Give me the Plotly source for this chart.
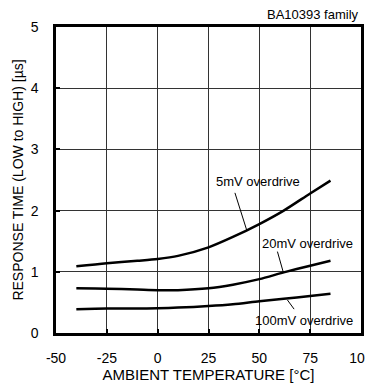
import plotly.graph_objects as go

temp = [-40, -25, -10, 0, 10, 25, 37, 50, 62, 75, 85]
mv5 = [1.09, 1.14, 1.18, 1.21, 1.26, 1.40, 1.57, 1.78, 2.00, 2.28, 2.49]
mv20 = [0.73, 0.725, 0.71, 0.70, 0.70, 0.73, 0.79, 0.88, 0.99, 1.10, 1.18]
mv100 = [0.39, 0.40, 0.40, 0.405, 0.415, 0.44, 0.47, 0.52, 0.56, 0.605, 0.64]

x_ticks = [-50, -25, 0, 25, 50, 75, 100]
x_labels = ["-50", "-25", "0", "25", "50", "75", "100"]
y_ticks = [0, 1, 2, 3, 4, 5]

font = "Liberation Sans, Arial, sans-serif"

fig = go.Figure()
for ys in (mv5, mv20, mv100):
    fig.add_trace(go.Scatter(x=temp, y=ys, mode="lines",
                             line=dict(color="black", width=2.5, shape="spline", smoothing=0.8),
                             showlegend=False, hoverinfo="skip"))

# leader lines
leaders = [((38.0, 2.29), (43.8, 1.68)), ((58.9, 1.33), (61.8, 0.99)), ((63.8, 0.54), (67.1, 0.39))]
for (x0, y0), (x1, y1) in leaders:
    fig.add_shape(type="line", x0=x0, y0=y0, x1=x1, y1=y1, line=dict(color="black", width=1))

labels = [("5mV overdrive", 49.1, 2.47), ("20mV overdrive", 73.8, 1.47), ("100mV overdrive", 71.8, 0.20)]
for t, x, y in labels:
    fig.add_annotation(x=x, y=y, text=t, showarrow=False, font=dict(family=font, size=13, color="black"),
                       xanchor="center", yanchor="middle", bgcolor="rgba(0,0,0,0)")

fig.add_annotation(x=1, y=1, xref="paper", yref="paper", text="BA10393 family", showarrow=False,
                   xanchor="right", yanchor="bottom", yshift=3, font=dict(family=font, size=13, color="black"))

fig.update_xaxes(range=[-50, 100], tickvals=x_ticks, ticktext=x_labels, ticks="inside", ticklen=4, tickwidth=2,
                 tickcolor="black", showgrid=True, gridcolor="#333", gridwidth=1, zeroline=False,
                 showline=True, linecolor="black", linewidth=2.5, mirror=True, automargin=False,
                 ticklabelstandoff=10,
                 title=dict(text="AMBIENT TEMPERATURE [°C]", font=dict(family=font, size=15, color="black"), standoff=4),
                 tickfont=dict(family=font, size=14, color="black"))
fig.update_yaxes(range=[0, 5], tickvals=y_ticks, ticks="inside", ticklen=4, tickwidth=2, tickcolor="black",
                 showgrid=True, gridcolor="#333", gridwidth=1, zeroline=False,
                 showline=True, linecolor="black", linewidth=2.5, mirror=True, automargin=False,
                 ticklabelstandoff=12,
                 title=dict(text="RESPONSE TIME (LOW to HIGH) [µs]", font=dict(family=font, size=14, color="black"), standoff=4),
                 tickfont=dict(family=font, size=14, color="black"))

# page body has an 8px margin, so the figure is shifted by 8px; sizes account for that
fig.update_layout(width=365, height=377, margin=dict(l=48, r=12, t=19, b=52),
                  plot_bgcolor="white", paper_bgcolor="white", showlegend=False)

fig.write_html("out.html")
